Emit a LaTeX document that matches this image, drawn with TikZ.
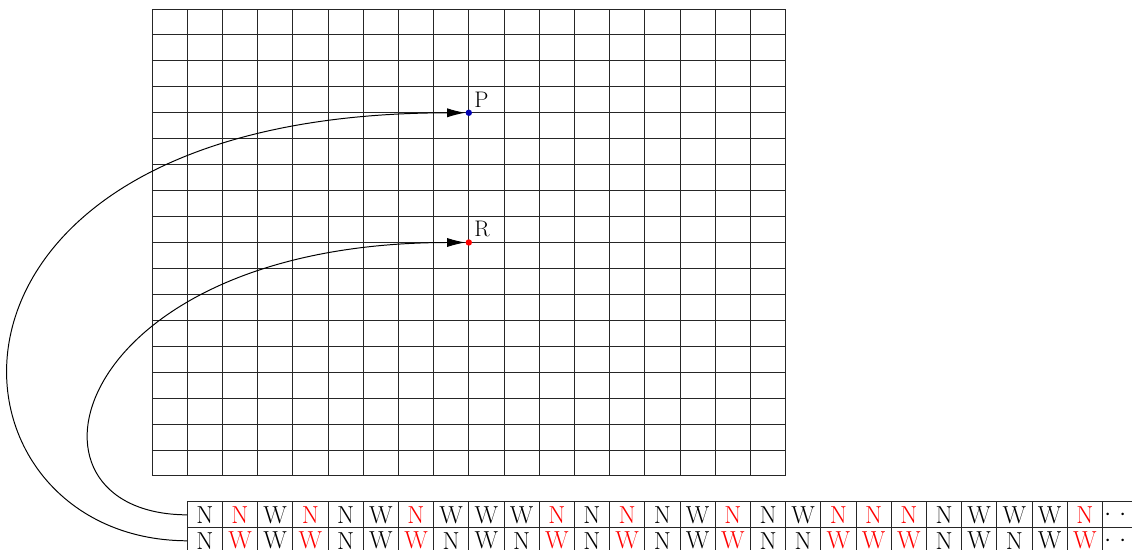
\documentclass[tikz,border=0pt]{standalone}
\usepackage{xcolor}
\usepackage{tikz}
\usetikzlibrary{arrows.meta,positioning,calc}

\begin{document}
\begin{tikzpicture}[
  x=0.88cm, y=-0.6485cm,
  gridline/.style={line width=0.7pt, black!85},
  cell/.style={draw=black!85, line width=0.7pt, minimum width=0.88cm, minimum height=0.6485cm,
    inner sep=0pt, outer sep=0pt, font=\fontsize{17.5}{19}\selectfont},
  pt/.style={circle, inner sep=0pt, minimum size=0.16cm},
  ptlbl/.style={font=\fontsize{16}{18}\selectfont, inner sep=2pt},
  curve/.style={-{Latex[length=13pt, width=6.5pt]}, line width=0.7pt, black},
]
  \clip (-4.318,-0.347) rectangle (27.84,20.855);

  % --- the grid ------------------------------------------------------
  \foreach \i in {0,...,18} {
    \draw[gridline] (\i,0) -- (\i,18);
    \draw[gridline] (0,\i) -- (18,\i);
  }

  % --- points on the grid --------------------------------------------
  \node[pt, fill=blue!70!black, label={[ptlbl]above right:P}] (P) at (9,4) {};
  \node[pt, fill=red, label={[ptlbl]above right:R}] (R) at (9,9) {};

  % --- the two-row tape ----------------------------------------------
  \foreach \ch/\c [count=\i] in {N/black,N/red,W/black,N/red,N/black,W/black,N/red,
      W/black,W/black,W/black,N/red,N/black,N/red,N/black,W/black,N/red,N/black,
      W/black,N/red,N/red,N/red,N/black,W/black,W/black,W/black,N/red}
    \node[cell, text=\c] (up\i) at (\i+0.5,19.5) {\ch};
  \foreach \ch/\c [count=\i] in {N/black,W/red,W/black,W/red,N/black,W/black,W/red,
      N/black,W/black,N/black,W/red,N/black,W/red,N/black,W/black,W/red,N/black,
      N/black,W/red,W/red,W/red,N/black,W/black,N/black,W/black,W/red}
    \node[cell, text=\c] (dn\i) at (\i+0.5,20.5) {\ch};

  % tape goes on
  \draw[gridline] (up26.north east) -- (27.84,19);
  \draw[gridline] (up26.south east) -- (27.84,20);
  \draw[gridline] (dn26.south east) -- (27.84,21);
  \node[font=\fontsize{17.5}{19}\selectfont, inner sep=0pt] (more1) at (27.365,19.5) {$\cdot$\,\,$\cdot$};
  \node[font=\fontsize{17.5}{19}\selectfont, inner sep=0pt] (more2) at (27.365,20.5) {$\cdot$\,\,$\cdot$};

  % --- links from tape to points -------------------------------------
  \draw[curve] (dn1.west) .. controls (-6.31,20.47) and (-7.40,4.03) .. (P);
  \draw[curve] (up1.west) .. controls (-4.28,19.47) and (-2.42,9.02) .. (R);
\end{tikzpicture}
\end{document}
